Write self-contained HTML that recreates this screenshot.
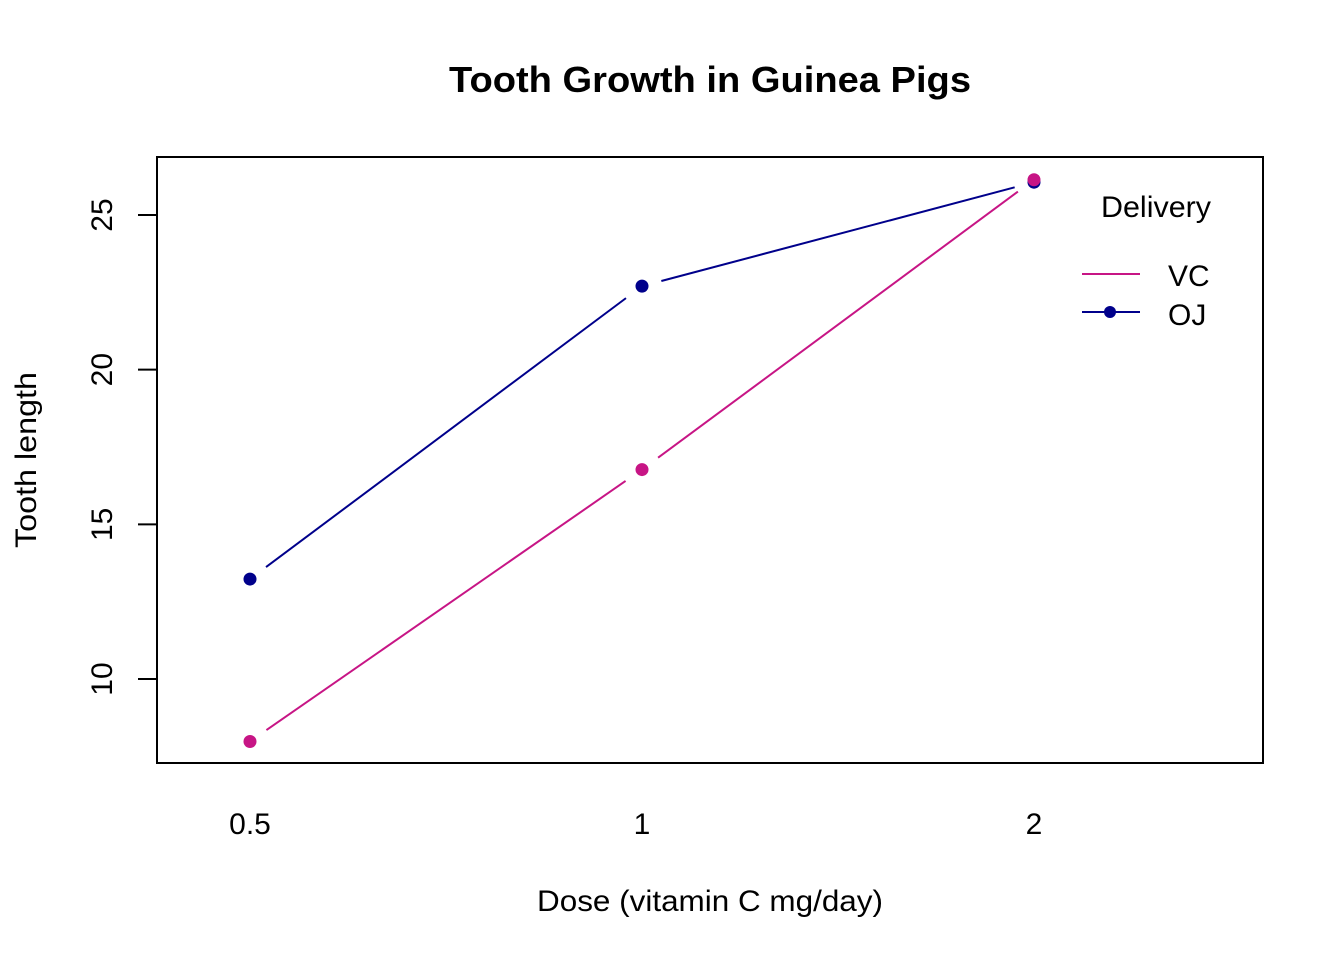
<!DOCTYPE html>
<html><head><meta charset="utf-8"><style>
body{margin:0;background:#fff}
svg{display:block;font-family:"Liberation Sans",Arial,sans-serif}
</style></head><body>
<svg id="chart" width="1344" height="960">
<rect width="1344" height="960" fill="#fff"/>
<text x="710" y="92" font-size="36" font-weight="bold" text-anchor="middle" textLength="522" lengthAdjust="spacingAndGlyphs">Tooth Growth in Guinea Pigs</text>
<rect x="157" y="157" width="1106" height="606" fill="none" stroke="#000" stroke-width="2"/>
<text x="710" y="911" font-size="30" text-anchor="middle" textLength="346" lengthAdjust="spacingAndGlyphs">Dose (vitamin C mg/day)</text>
<text transform="translate(36,460) rotate(-90)" font-size="30" text-anchor="middle" textLength="176" lengthAdjust="spacingAndGlyphs">Tooth length</text>
<g id="yaxis"></g><g id="xaxis"></g><g id="series"></g>
<g>
<text x="1156" y="217" font-size="30" text-anchor="middle" textLength="110" lengthAdjust="spacingAndGlyphs">Delivery</text>
<line x1="1082" y1="274" x2="1140" y2="274" stroke="#C71585" stroke-width="2"/>
<text x="1168" y="286" font-size="30">VC</text>
<line x1="1082" y1="312" x2="1140" y2="312" stroke="#00008B" stroke-width="2"/>
<circle cx="1110" cy="312" r="6" fill="#00008B"/>
<text x="1168" y="325" font-size="30">OJ</text>
</g>
</svg>
<script>
const doses = ["0.5","1","2"];
const vcValues = [7.98, 16.77, 26.14];
const ojValues = [13.23, 22.70, 26.06];
const yTicks = [10, 15, 20, 25];
const NS="http://www.w3.org/2000/svg";
function xS(i){return 250 + i*392;}
function yS(v){return 679 - (v-10)*(464/15);}
function mk(tag,attrs,parent){const e=document.createElementNS(NS,tag);for(const k in attrs)e.setAttribute(k,attrs[k]);parent.appendChild(e);return e;}
const ya=document.getElementById('yaxis');
yTicks.forEach(t=>{
  const l=mk('line',{x1:138,x2:157,y1:yS(t),y2:yS(t),stroke:'#000','stroke-width':2},ya);
  
  
  const tx=mk('text',{transform:`translate(112,${yS(t)}) rotate(-90)`,'font-size':30,'text-anchor':'middle'},ya);
  tx.textContent=t;
  
  
});
const xa=document.getElementById('xaxis');
doses.forEach((d,i)=>{
  const tx=mk('text',{x:xS(i),y:834,'font-size':30,'text-anchor':'middle'},xa);
  tx.textContent=d;
  
  
});
const sg=document.getElementById('series');
function drawSeries(vals,color,name){
  for(let i=0;i<vals.length-1;i++){
    const x1=xS(i),y1=yS(vals[i]),x2=xS(i+1),y2=yS(vals[i+1]);
    const dx=x2-x1,dy=y2-y1,len=Math.hypot(dx,dy),g=20;
    const l=mk('line',{x1:x1+dx/len*g,y1:y1+dy/len*g,x2:x2-dx/len*g,y2:y2-dy/len*g,stroke:color,'stroke-width':2},sg);
    
    
  }
  vals.forEach((v,i)=>{
    const c=mk('circle',{cx:xS(i),cy:yS(v),r:6.5,fill:color},sg);
    
    
  });
}
drawSeries(ojValues,'#00008B','oj');
drawSeries(vcValues,'#C71585','vc');
</script>
</body></html>
